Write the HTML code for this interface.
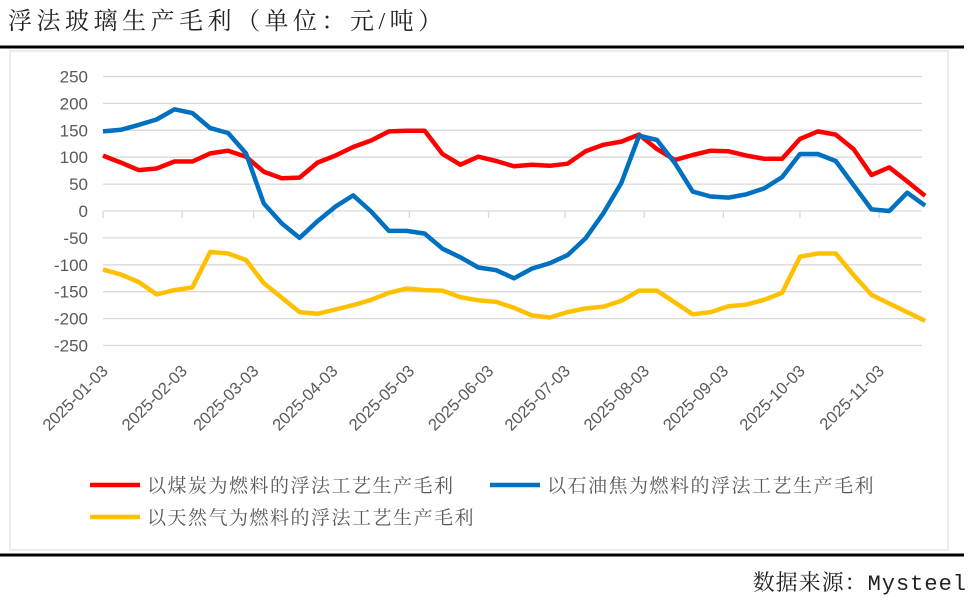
<!DOCTYPE html>
<html><head><meta charset="utf-8"><style>
body{margin:0;width:974px;height:603px;background:#fff;overflow:hidden;position:relative;font-family:"Liberation Sans","Noto Sans CJK SC",sans-serif;}
#title{position:absolute;left:8px;top:1px;font-size:24px;font-family:"Liberation Serif","Noto Serif CJK SC",serif;color:#222;letter-spacing:4.5px;}
#src{position:absolute;right:7px;top:566px;font-size:22px;font-family:"Liberation Mono","Noto Serif CJK SC",serif;color:#222;letter-spacing:1px;}
</style></head><body>
<div id="title">浮法玻璃生产毛利（单位：元/吨）</div>
<div id="src">数据来源：Mysteel</div>
<svg id="chart" width="974" height="603" style="position:absolute;left:0;top:0"></svg>
<script>
const yTicks=[250,200,150,100,50,0,-50,-100,-150,-200,-250];
const xTickLabels=["2025-01-03","2025-02-03","2025-03-03","2025-04-03","2025-05-03","2025-06-03","2025-07-03","2025-08-03","2025-09-03","2025-10-03","2025-11-03"];
const xTickDays=[0,31,59,90,120,151,181,212,243,273,304];
const seriesNames=["以煤炭为燃料的浮法工艺生产毛利","以石油焦为燃料的浮法工艺生产毛利","以天然气为燃料的浮法工艺生产毛利"];
const coal=[103,90,76,79,92,92,107,112,101,73,61,62,90,103,119,131,148,149,149,106,86,101,93,83,86,84,88,111,123,129,142,115,95,104,112,111,103,97,97,134,148,142,115,67,81,55,28];
const petcoke=[148,151,160,170,189,182,154,145,107,14,-23,-50,-19,8,29,-1,-37,-37,-42,-70,-86,-105,-110,-125,-107,-97,-82,-51,-4,52,140,132,89,36,27,25,31,42,63,106,106,93,48,3,0,34,10];
const gas=[-109,-118,-132,-155,-147,-142,-76,-79,-91,-134,-161,-188,-191,-183,-175,-165,-152,-144,-147,-148,-160,-166,-169,-180,-194,-198,-188,-181,-178,-167,-148,-148,-170,-192,-188,-177,-174,-165,-152,-85,-79,-79,-119,-156,-172,-188,-204];
const colors=["#ff0000","#0070c0","#ffc000"];
const svg=document.getElementById('chart');
const NS="http://www.w3.org/2000/svg";
function mk(t,a){const e=document.createElementNS(NS,t);for(const k in a)e.setAttribute(k,a[k]);svg.appendChild(e);return e;}
const x0=103,pxDay=2.553,yZero=211,pxUnit=269/500;
const X=d=>x0+d*pxDay;
const Y=v=>yZero-v*pxUnit;
let e;
e=mk('line',{x1:0,x2:964,y1:47,y2:47,stroke:'#000','stroke-width':3});


e=mk('line',{x1:0,x2:964,y1:555,y2:555,stroke:'#000','stroke-width':3});


e=mk('rect',{x:10,y:51,width:938,height:499,fill:'#fff',stroke:'#d9d9d9','stroke-width':1});


yTicks.forEach(v=>{
 const g=mk('line',{x1:x0,x2:922,y1:Y(v),y2:Y(v),stroke:'#d9d9d9','stroke-width':1.3});
 
 
 const t=mk('text',{x:88,y:Y(v)+6,'text-anchor':'end','font-size':17,fill:'#595959'});
 t.textContent=v;
 
 
});
xTickDays.forEach((d,i)=>{
 const tk=mk('line',{x1:X(d),x2:X(d),y1:yZero,y2:yZero+7,stroke:'#d9d9d9','stroke-width':1.3});
 
 
 const t=mk('text',{x:X(d)+6,y:372,'text-anchor':'end','font-size':16.5,fill:'#595959',transform:`rotate(-45 ${X(d)+6} 372)`});
 t.textContent=xTickLabels[i];
 
 
});
[coal,petcoke,gas].forEach((s,si)=>{
 const pts=s.map((v,i)=>X(i*7).toFixed(1)+','+Y(v).toFixed(1)).join(' ');
 const p=mk('polyline',{points:pts,fill:'none',stroke:colors[si],'stroke-width':4.5,'stroke-linejoin':'round'});
 
 
});
const lg=[[90,485],[490,485],[90,517]];
lg.forEach((p,i)=>{
 const l=mk('line',{x1:p[0],x2:p[0]+50,y1:p[1],y2:p[1],stroke:colors[i],'stroke-width':4.5});
 
 
 const t=mk('text',{x:p[0]+57,y:p[1]+7,'font-size':19,'letter-spacing':1.5,fill:'#595959','font-family':'"Liberation Serif","Noto Serif CJK SC",serif'});
 t.textContent=seriesNames[i];
 
 
});
</script>
</body></html>
